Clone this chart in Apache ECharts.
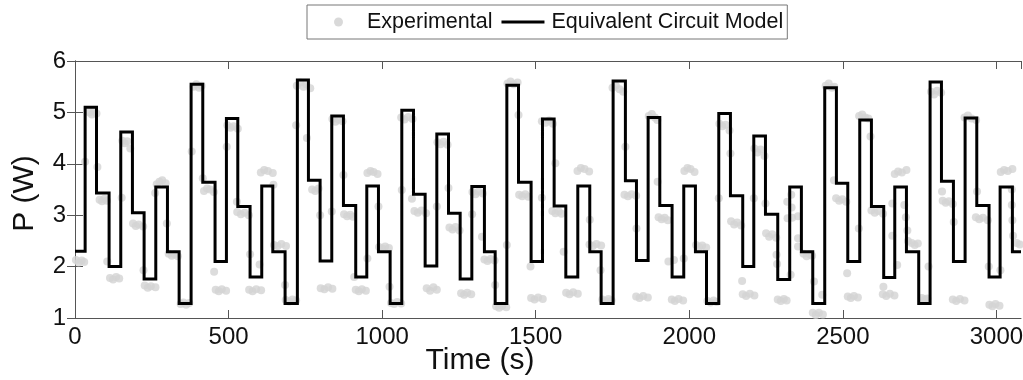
<!DOCTYPE html>
<html>
<head>
<meta charset="utf-8">
<script src="https://cdn.jsdelivr.net/npm/echarts@6/dist/echarts.min.js"></script>
<style>
html,body{margin:0;padding:0;background:#fff;}
#chart{width:1023px;height:380px;}
</style>
</head>
<body>
<div id="chart"></div>
<script>
// Equivalent circuit model: step start times (s) and power levels (W)
var modelStartTime = [0,33,70,111,149,187,225,263,301,339,
  378,416,456,493,530,570,608,644,684,
  724,760,798,836,874,914,950,988,1026,
  1064,1102,1140,1178,1216,1254,1292,1333,1368,
  1406,1444,1485,1522,1560,1598,1637,1676,1713,
  1752,1792,1828,1866,1904,1944,1982,2020,2056,
  2096,2134,2174,2210,2248,2288,2327,2365,2402,
  2441,2479,2516,2555,2593,2633,2669,2707,2747,
  2784,2821,2860,2898,2936,2976,3012,3052];
var modelPower = [2.3,5.1,3.43,2.0,4.62,3.05,1.76,3.55,2.29,1.28,
  5.55,3.64,2.1,4.88,3.17,1.8,3.57,2.29,1.28,
  5.63,3.68,2.11,4.93,3.19,1.8,3.57,2.29,1.28,
  5.04,3.41,2.01,4.58,3.04,1.76,3.56,2.29,1.28,
  5.53,3.64,2.1,4.87,3.18,1.8,3.57,2.29,1.28,
  5.61,3.67,2.12,4.9,3.19,1.8,3.57,2.29,1.28,
  4.98,3.38,2.0,4.54,3.02,1.75,3.55,2.29,1.28,
  5.48,3.62,2.1,4.85,3.17,1.79,3.55,2.29,1.28,
  5.59,3.66,2.1,4.89,3.19,1.8,3.55,2.29];
var modelEndTime = 3080;

// Experimental measurements [time (s), power (W)]
var experimental = [
  [3,2.13],[12,2.08],[22,2.12],[30,2.09],[33,4.04],
  [47,5.0],[55,4.96],[62,5.04],[70,4.98],[73,3.94],
  [80,3.3],[88,3.27],[96,3.32],[104,3.28],[105,2.10],
  [114,1.78],[124,1.75],[134,1.8],[144,1.77],[152,3.34],
  [154,4.45],[162,4.4],[170,4.44],[180,4.3],
  [189,2.84],[198,2.79],[207,2.82],[222,2.78],[223,1.93],
  [227,1.63],[237,1.59],[247,1.62],[262,1.6],[261,3.43],
  [266,3.6],[275,3.65],[284,3.68],[295,3.62],[299,2.84],
  [305,2.25],[315,2.21],[325,2.24],[335,2.2],
  [344,1.27],[353,1.3],[362,1.26],[372,1.29],
  [380,4.24],[386,5.5],[395,5.55],[404,5.48],[412,5.52],[416,3.72],
  [420,3.47],[430,3.52],[440,3.5],[452,3.45],[453,1.90],
  [458,1.55],[468,1.52],[478,1.56],[492,1.53],[494,4.33],
  [496,4.75],[506,4.7],[516,4.73],[530,4.68],[527,3.26],
  [528,3.06],[540,3.02],[552,3.05],[566,3.0],[570,2.24],[601,2.04],
  [567,1.55],[578,1.52],[590,1.56],[606,1.54],
  [605,3.83],[616,3.88],[628,3.86],[644,3.82],[646,3.59],
  [648,2.42],[660,2.4],[672,2.44],[687,2.4],[684,1.64],
  [686,1.35],[697,1.32],[708,1.36],[720,1.34],[720,4.75],
  [722,5.52],[733,5.58],[744,5.5],[753,5.55],[755,4.50],[766,5.47],
  [772,3.5],[782,3.47],[793,3.52],[798,3.00],
  [800,1.58],[812,1.56],[824,1.6],[838,1.57],[836,3.07],
  [838,4.87],[848,4.82],[858,4.86],[871,4.83],[874,3.78],
  [876,3.02],[886,2.98],[896,3.01],[905,2.97],[909,1.80],[952,2.16],
  [914,1.55],[924,1.52],[934,1.56],[947,1.53],
  [952,3.82],[962,3.86],[972,3.84],[985,3.8],[988,3.17],
  [990,2.38],[1000,2.35],[1010,2.39],[1022,2.36],[1024,1.61],
  [1029,1.29],[1039,1.27],[1049,1.31],[1062,1.28],[1064,3.49],
  [1062,4.9],[1073,4.86],[1085,4.91],[1099,4.87],[1097,3.32],
  [1105,3.08],[1116,3.05],[1128,3.09],[1143,3.04],
  [1145,1.58],[1156,1.53],[1167,1.6],[1178,1.55],
  [1180,4.42],[1190,4.38],[1200,4.43],[1213,4.37],[1178,3.17],[1216,3.53],
  [1219,2.76],[1229,2.72],[1239,2.77],[1252,2.7],
  [1257,1.48],[1267,1.45],[1277,1.49],[1290,1.46],[1293,3.02],
  [1294,3.45],[1304,3.41],[1314,3.46],[1328,3.42],[1325,2.58],
  [1333,2.14],[1343,2.11],[1353,2.15],[1366,2.12],[1368,1.64],
  [1371,1.23],[1381,1.2],[1391,1.24],[1404,1.21],[1406,2.42],
  [1408,5.56],[1418,5.6],[1428,5.55],[1441,5.58],[1444,4.95],
  [1446,3.4],[1456,3.37],[1466,3.41],[1476,3.36],[1483,2.00],
  [1485,1.39],[1496,1.36],[1508,1.4],[1523,1.37],
  [1520,4.83],[1532,4.8],[1544,4.84],[1556,4.78],[1520,3.34],[1564,4.01],
  [1554,3.08],[1564,3.04],[1575,3.07],[1584,3.03],[1591,2.29],
  [1599,1.49],[1610,1.46],[1622,1.5],[1637,1.47],
  [1636,3.86],[1647,3.92],[1659,3.9],[1674,3.85],[1676,2.91],
  [1675,2.43],[1686,2.4],[1698,2.44],[1713,2.41],[1711,1.93],
  [1717,1.36],[1727,1.33],[1737,1.37],[1747,1.34],
  [1750,5.48],[1761,5.52],[1773,5.45],[1785,5.4],[1792,4.33],
  [1789,3.4],[1800,3.37],[1812,3.41],[1827,3.38],[1828,2.74],
  [1827,1.42],[1838,1.39],[1850,1.43],[1865,1.4],
  [1868,4.93],[1878,4.97],[1888,4.9],[1896,4.85],[1897,3.65],
  [1900,2.96],[1910,2.92],[1920,2.95],[1930,2.9],[1932,2.1],
  [1943,1.36],[1953,1.33],[1965,1.37],[1980,1.34],[1950,2.13],[1982,2.16],
  [1984,3.86],[1994,3.92],[2004,3.9],[2017,3.84],
  [2022,2.42],[2032,2.38],[2042,2.41],[2055,2.37],
  [2059,1.33],[2069,1.3],[2079,1.34],[2089,1.31],[2096,3.33],
  [2098,4.78],[2108,4.73],[2118,4.76],[2131,4.65],[2134,4.2],
  [2136,2.88],[2146,2.82],[2156,2.86],[2169,2.8],[2172,1.72],
  [2174,1.46],[2185,1.43],[2197,1.47],[2212,1.44],[2210,3.33],
  [2212,4.3],[2222,4.22],[2232,4.28],[2245,4.15],[2248,3.23],
  [2250,2.65],[2260,2.58],[2270,2.63],[2283,2.56],[2284,2.23],[2286,2.05],
  [2288,1.36],[2298,1.33],[2308,1.37],[2317,1.34],[2319,3.26],[2320,2.94],
  [2332,3.4],[2333,3.15],[2335,2.95],[2354,2.98],[2354,2.55],[2354,2.39],[2330,1.84],
  [2372,2.25],[2382,2.2],[2392,2.24],[2400,2.21],[2406,1.71],
  [2402,1.1],[2412,1.06],[2422,1.1],[2435,1.07],[2433,1.45],
  [2444,5.52],[2454,5.56],[2464,5.48],[2472,5.5],[2471,3.68],
  [2478,3.33],[2488,3.28],[2498,3.31],[2511,3.26],[2514,1.87],
  [2516,1.42],[2526,1.39],[2536,1.43],[2549,1.4],[2552,2.74],
  [2553,4.93],[2563,4.96],[2573,4.9],[2583,4.88],[2590,4.53],
  [2593,3.09],[2604,3.05],[2616,3.08],[2631,3.03],[2632,1.61],
  [2630,1.46],[2641,1.43],[2653,1.47],[2668,1.44],[2661,3.23],[2661,2.6],
  [2669,3.8],[2680,3.85],[2692,3.83],[2707,3.88],[2677,2.03],
  [2700,3.2],[2705,2.96],[2710,2.7],[2712,2.5],
  [2724,2.46],[2734,2.42],[2744,2.45],[2779,2.0],
  [2757,1.39],[2766,1.36],[2775,1.38],
  [2787,5.4],[2797,5.35],[2807,5.42],[2820,5.38],[2823,3.46],
  [2825,3.28],[2835,3.24],[2845,3.27],[2858,3.22],[2861,2.87],
  [2858,1.36],[2869,1.33],[2881,1.37],[2896,1.34],
  [2896,4.9],[2907,4.94],[2919,4.88],[2934,4.85],[2937,3.46],
  [2933,2.96],[2944,2.92],[2956,2.95],[2972,2.9],[2975,2.00],
  [2977,1.26],[2987,1.23],[2997,1.27],[3010,1.24],[3013,1.93],
  [3014,3.84],[3025,3.88],[3037,3.86],[3052,3.9],
  [3050,3.5],[3050,3.2],[3052,2.9],[3054,2.6],
  [3066,2.46],[3076,2.43]
];

var xTickInterval = 500;
var yMin = 1, yMax = 6;
var xMin = 0, xMax = 3080;

var modelData = modelStartTime.map(function(t, i){ return [t, modelPower[i]]; });
modelData.push([modelEndTime, modelPower[modelPower.length - 1]]);

var frameColor = '#555';
var font = "'Liberation Sans', Arial, Helvetica, sans-serif";

var chart = echarts.init(document.getElementById('chart'), null, {renderer:'canvas'});
chart.setOption({
  animation: false,
  backgroundColor: '#fff',
  textStyle: {fontFamily: font},
  legend: {
    left: 307, top: 5,
    padding: [6, 4, 6, 27],
    itemGap: 9,
    itemWidth: 43, itemHeight: 9,
    borderColor: '#777', borderWidth: 1,
    backgroundColor: '#fff',
    textStyle: {fontFamily: font, fontSize: 21.5, color: '#111', padding: [0,0,0,2]},
    data: [
      {name: 'Experimental', icon: 'circle', itemStyle: {color: '#cfcfcf'}},
      {name: 'Equivalent Circuit Model', icon: 'path://M0,0H43V3H0Z', itemStyle: {color: '#000'}}
    ]
  },
  grid: {left: 75, right: 2, top: 61, bottom: 62, containLabel: false, outerBoundsMode: 'none'},
  xAxis: [{
    type: 'value', min: xMin, max: xMax, interval: xTickInterval,
    name: 'Time (s)', nameLocation: 'middle', nameGap: 28, nameMoveOverlap: false,
    nameTextStyle: {fontFamily: font, fontSize: 30, color: '#111', padding: [0, 136, 0, 0]},
    axisLine: {show: true, lineStyle: {color: frameColor, width: 1}},
    axisTick: {show: true, inside: true, length: 8, lineStyle: {color: frameColor}},
    axisLabel: {fontFamily: font, fontSize: 24, color: '#111', margin: 7, showMaxLabel: false,
      formatter: function(v){ return (v % xTickInterval === 0) ? String(v) : ''; }},
    splitLine: {show: false}
  }, {
    type: 'value', position: 'top', min: xMin, max: xMax, interval: xTickInterval,
    axisLine: {show: true, lineStyle: {color: frameColor, width: 1}},
    axisTick: {show: true, inside: true, length: 8, lineStyle: {color: frameColor}},
    axisLabel: {show: false}, splitLine: {show: false}
  }],
  yAxis: [{
    type: 'value', min: yMin, max: yMax, interval: 1,
    name: 'P (W)', nameLocation: 'middle', nameGap: 35,
    nameTextStyle: {fontFamily: font, fontSize: 30, color: '#111', padding: [0, 8, 0, 0]},
    axisLine: {show: true, lineStyle: {color: frameColor, width: 1}},
    axisTick: {show: true, inside: true, length: 8, lineStyle: {color: frameColor}},
    axisLabel: {fontFamily: font, fontSize: 24, color: '#111', margin: 9},
    splitLine: {show: false}
  }, {
    type: 'value', position: 'right', min: yMin, max: yMax, interval: 1,
    axisLine: {show: true, lineStyle: {color: frameColor, width: 1}},
    axisTick: {show: true, inside: true, length: 8, lineStyle: {color: frameColor}},
    axisLabel: {show: false}, splitLine: {show: false}
  }],
  series: [{
    name: 'Experimental',
    type: 'scatter',
    xAxisIndex: 0, yAxisIndex: 0,
    symbol: 'circle', symbolSize: 8,
    itemStyle: {color: '#d3d3d3'},
    data: experimental,
    z: 2
  }, {
    name: 'Equivalent Circuit Model',
    type: 'line',
    xAxisIndex: 0, yAxisIndex: 0,
    step: 'end',
    showSymbol: false, symbol: 'none',
    lineStyle: {color: '#000', width: 3, join: 'miter'},
    itemStyle: {color: '#000'},
    data: modelData,
    z: 3
  }]
});
</script>
</body>
</html>
